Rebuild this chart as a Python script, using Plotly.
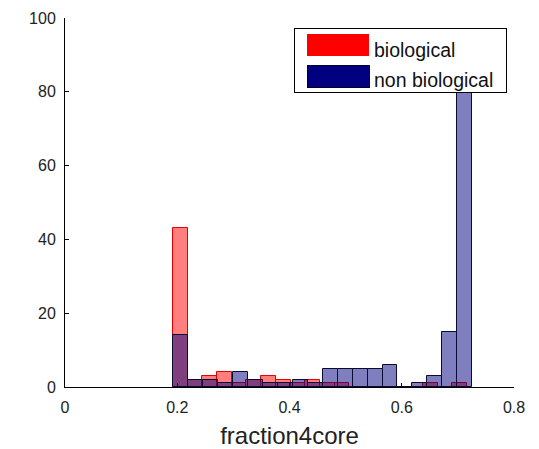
import plotly.graph_objects as go

# Histogram counts (20 bins each, Matlab-style hist)
bio_counts = [43, 2, 3, 4, 1, 2, 3, 2, 1, 2, 1, 1, 0, 0, 0, 0, 0, 1, 0, 1]
nonbio_counts = [14, 2, 2, 1, 4, 2, 1, 1, 2, 1, 5, 5, 5, 5, 6, 0, 1, 3, 15, 90]

bio_min, bio_max = 0.1924, 0.7163
nonbio_min, nonbio_max = 0.1924, 0.7257
n_bins = 20

def centers(lo, hi, n):
    w = (hi - lo) / n
    return [lo + w * (i + 0.5) for i in range(n)], w

bio_x, bio_w = centers(bio_min, bio_max, n_bins)
nb_x, nb_w = centers(nonbio_min, nonbio_max, n_bins)

x_ticks = [0, 0.2, 0.4, 0.6, 0.8]
y_ticks = [0, 20, 40, 60, 80, 100]
series_names = ["biological", "non biological"]

FONT = "Arial, Liberation Sans, sans-serif"

fig = go.Figure()
fig.add_trace(go.Bar(
    x=bio_x, y=bio_counts, width=bio_w, name=series_names[0],
    marker=dict(color="rgba(255,0,0,0.5)", line=dict(color="rgb(230,0,0)", width=1)),
    showlegend=False,
))
fig.add_trace(go.Bar(
    x=nb_x, y=nonbio_counts, width=nb_w, name=series_names[1],
    marker=dict(color="rgba(0,0,128,0.5)", line=dict(color="rgb(10,10,50)", width=1)),
    showlegend=False,
))

# Manual legend (Matlab-style big swatches), drawn with annotations so it sits on top
fig.add_annotation(xref="paper", yref="paper", x=0.510, y=0.974, xanchor="left", yanchor="top",
                   text=" ", showarrow=False, width=211, height=63, borderpad=0,
                   bgcolor="white", bordercolor="black", borderwidth=1)
fig.add_annotation(xref="paper", yref="paper", x=0.538, y=0.957, xanchor="left", yanchor="top",
                   text=" ", showarrow=False, width=62, height=22, borderpad=0,
                   bgcolor="#ff0000", borderwidth=0)
fig.add_annotation(xref="paper", yref="paper", x=0.538, y=0.873, xanchor="left", yanchor="top",
                   text=" ", showarrow=False, width=61, height=21, borderpad=0,
                   bgcolor="#000080", bordercolor="#000030", borderwidth=1)
for name, yy in zip(series_names, [0.914, 0.8325]):
    fig.add_annotation(xref="paper", yref="paper", x=0.686, y=yy, text=name,
                       showarrow=False, xanchor="left", yanchor="middle", borderpad=0,
                       font=dict(family=FONT, size=19.5, color="#111"))

fig.update_layout(
    width=531, height=441,
    margin=dict(l=57, r=25, t=10, b=62),
    paper_bgcolor="white", plot_bgcolor="white",
    barmode="overlay", bargap=0,
    font=dict(family=FONT, size=16, color="#222"),
)
fig.update_xaxes(
    range=[0, 0.8], tickvals=x_ticks, ticktext=[f"{v:g}" for v in x_ticks],
    showgrid=False, zeroline=False, showline=True, linecolor="black", linewidth=1,
    ticks="inside", ticklen=4, tickcolor="black", ticklabelstandoff=6, automargin=False,
    title=dict(text="fraction4core", font=dict(family=FONT, size=24, color="#222")),
)
fig.update_yaxes(
    range=[0, 100], tickvals=y_ticks, automargin=False,
    showgrid=False, zeroline=False, showline=True, linecolor="black", linewidth=1,
    ticks="inside", ticklen=4, tickcolor="black", ticklabelstandoff=5,
)

fig.write_html("out.html")
